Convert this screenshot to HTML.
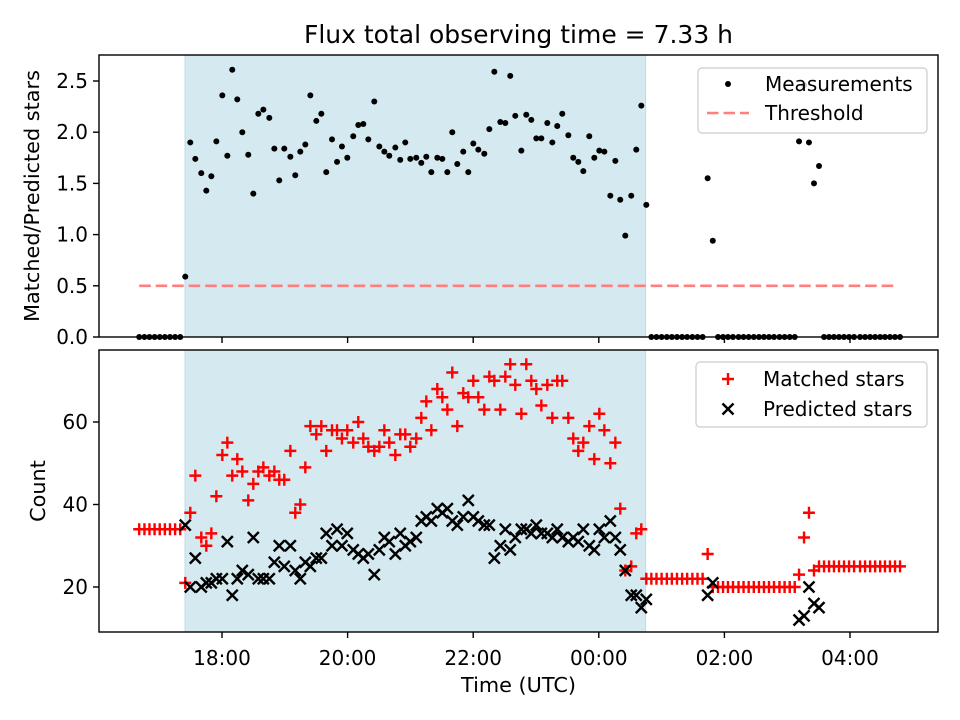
<!DOCTYPE html>
<html><head><meta charset="utf-8">
<style>
html,body{margin:0;padding:0;background:#fff;}
svg{display:block;font-family:"DejaVu Sans","Liberation Sans",sans-serif;}
</style></head>
<body>
<svg id="chart" width="960" height="720" viewBox="0 0 960 720" xmlns="http://www.w3.org/2000/svg">
<rect width="960" height="720" fill="#fff"/>
<text x="518.5" y="43" font-size="25" text-anchor="middle">Flux total observing time = 7.33 h</text>
<g id="topPanel"></g>
<g id="botPanel"></g>
<text transform="translate(39,196) rotate(-90)" font-size="20.8" text-anchor="middle">Matched/Predicted stars</text>
<text transform="translate(45,491) rotate(-90)" font-size="20.8" text-anchor="middle">Count</text>
<text x="518.5" y="692" font-size="20.8" text-anchor="middle">Time (UTC)</text>
</svg>
<script>
// minutes after 16:00 UTC
const minutes = [40.9,45.9,50.7,55.6,60.5,65.4,70.3,75.2,80.1,
84.9,89.7,94.5,100.2,105.0,109.8,114.6,120.3,125.1,129.8,134.6,139.4,145.1,149.9,154.7,159.5,165.2,170.0,174.7,179.5,185.3,190.0,194.8,199.6,204.4,210.1,214.9,219.6,225.1,229.9,234.6,239.7,245.4,250.2,255.0,259.8,265.5,270.3,275.1,279.8,285.6,290.3,295.1,299.9,305.6,310.4,315.2,320.0,325.7,330.5,335.3,340.0,344.8,350.5,355.3,360.1,364.9,370.6,375.4,380.2,385.9,390.7,395.4,400.2,406.0,410.7,415.5,420.3,425.1,430.8,435.6,440.3,445.1,450.9,455.6,460.4,465.2,470.9,475.7,480.5,485.3,491.0,495.8,500.5,505.3,511.0,515.8,520.6,525.4,
530.2,535.1,540.0,545.0,549.8,554.7,559.6,564.4,569.4,574.3,579.2,584.0,588.9,593.9,598.7,603.4,608.2,613.5,618.3,623.2,628.1,633.0,637.8,642.6,647.4,652.6,657.5,662.4,667.2,671.3,676.1,680.8,685.6,690.4,695.2,700.0,704.7,709.5,714.3,719.1,723.9,729.6,734.4,739.2,744.0,748.8,753.4,758.2,763.0,767.8];
const ratio = [0,0,0,0,0,0,0,0,0,
0.59,1.90,1.74,1.60,1.43,1.57,1.91,2.36,1.77,2.61,2.32,2.00,1.78,1.40,2.18,2.22,2.14,1.84,1.53,1.84,1.76,1.58,1.81,1.88,2.36,2.11,2.18,1.61,1.93,1.71,1.86,1.75,1.96,2.07,2.08,1.93,2.30,1.86,1.81,1.77,1.85,1.73,1.90,1.74,1.75,1.70,1.76,1.61,1.75,1.74,1.61,2.00,1.69,1.81,1.61,1.89,1.83,1.79,2.03,2.59,2.10,2.09,2.55,2.16,1.82,2.17,2.12,1.94,1.94,2.09,1.90,2.06,2.18,1.97,1.75,1.71,1.62,1.96,1.75,1.82,1.81,1.38,1.72,1.34,0.99,1.38,1.83,2.26,1.29,
0,0,0,0,0,0,0,0,0,0,0,1.55,0.94,0,0,0,0,0,0,0,0,0,0,0,0,0,0,0,0,1.91,2.46,1.90,1.50,1.67,0,0,0,0,0,0,0,0,0,0,0,0,0,0,0,0];
const matched = [34,34,34,34,34,34,34,34,34,
21,38,47,32,30,33,42,52,55,47,51,48,41,45,48,49,47,48,46,46,53,38,40,49,59,57,59,53,58,58,56,58,55,60,56,54,53,54,58,55,52,57,57,54,56,61,65,58,68,66,63,72,59,67,66,70,66,63,71,70,63,71,74,69,62,74,70,68,64,69,61,70,70,61,56,53,55,59,51,62,58,50,55,39,24,25,33,34,22,
22,22,22,22,22,22,22,22,22,22,22,28,20,20,20,20,20,20,20,20,20,20,20,20,20,20,20,20,20,23,32,38,24,25,25,25,25,25,25,25,25,25,25,25,25,25,25,25,25,25];
const predicted = [null,null,null,null,null,null,null,null,null,
35,20,27,20,21,21,22,22,31,18,22,24,23,32,22,22,22,26,30,25,30,24,22,26,25,27,27,33,30,34,30,33,29,28,27,28,23,29,32,31,28,33,30,31,32,36,37,36,39,38,39,36,35,37,41,37,36,35,35,27,30,34,29,32,34,34,33,35,33,33,32,34,32,31,32,31,34,30,29,34,32,36,32,29,24,18,18,15,17,
null,null,null,null,null,null,null,null,null,null,null,18,21,null,null,null,null,null,null,null,null,null,null,null,null,null,null,null,null,12,13,20,16,15,null,null,null,null,null,null,null,null,null,null,null,null,null,null,null,null];
const xTickMinutes = [120,240,360,480,600,720];
const xTickLabels = ["18:00","20:00","22:00","00:00","02:00","04:00"];
const topTicks = [0,0.5,1.0,1.5,2.0,2.5];
const topTickLabels = ["0.0","0.5","1.0","1.5","2.0","2.5"];
const botTicks = [20,40,60];
const botTickLabels = ["20","40","60"];
const shadeStart = 84.7, shadeEnd = 524.7;
const threshold = 0.5;

const NS = "http://www.w3.org/2000/svg";
const L = 99, R = 938;
const TT = 55, TB = 337, BT = 350, BB = 632;
const xs = m => 222 + (m - 120) * 62.8 / 60;
const yTop = v => 337 - v * 102.4;
const yBot = v => 587 - (v - 20) * 4.125;
function mk(parent, tag, attrs) {
  const e = document.createElementNS(NS, tag);
  for (const k in attrs) e.setAttribute(k, attrs[k]);
  parent.appendChild(e);
  return e;
}
const topG = document.getElementById('topPanel');
const botG = document.getElementById('botPanel');

function panel(g, yt, yb, name) {
  const s = mk(g, 'rect', {x: xs(shadeStart), y: yt, width: xs(shadeEnd) - xs(shadeStart), height: yb - yt, fill: '#d5eaf0', stroke: '#b9dbe6', 'stroke-width': 1});
  
  
}
panel(topG, TT, TB, 'top');
panel(botG, BT, BB, 'bottom');

const th = mk(topG, 'line', {x1: xs(minutes[0]), x2: xs(minutes[minutes.length - 1]) - 4, y1: yTop(threshold), y2: yTop(threshold), stroke: '#ff7f7f', 'stroke-width': 2.6, 'stroke-dasharray': '11.5,5'});



for (let i = 0; i < minutes.length; i++) {
  const c = mk(topG, 'circle', {cx: xs(minutes[i]), cy: yTop(ratio[i]), r: 3, fill: '#000'});
  
  
}
for (let i = 0; i < minutes.length; i++) {
  const x = xs(minutes[i]), y = yBot(matched[i]);
  const p = mk(botG, 'path', {d: `M${x-6},${y}H${x+6}M${x},${y-6}V${y+6}`, stroke: '#ff0000', 'stroke-width': 2.4, fill: 'none'});
  
  
}
for (let i = 0; i < minutes.length; i++) {
  if (predicted[i] === null) continue;
  const x = xs(minutes[i]), y = yBot(predicted[i]);
  const p = mk(botG, 'path', {d: `M${x-5.5},${y-5.5}L${x+5.5},${y+5.5}M${x-5.5},${y+5.5}L${x+5.5},${y-5.5}`, stroke: '#000', 'stroke-width': 2.4, fill: 'none'});
  
  
}

function axes(g, yt, yb, ticks, labels, yfn, showX, name) {
  const f = mk(g, 'rect', {x: L, y: yt, width: R - L, height: yb - yt, fill: 'none', stroke: '#000', 'stroke-width': 1.4});
  
  
  for (let i = 0; i < xTickMinutes.length; i++) {
    const x = xs(xTickMinutes[i]);
    const t = mk(g, 'line', {x1: x, x2: x, y1: yb, y2: yb + 6, stroke: '#000', 'stroke-width': 1.4});
    
    
    if (showX) {
      const tx = mk(g, 'text', {x: x, y: yb + 33, 'font-size': 20, 'text-anchor': 'middle'});
      tx.textContent = xTickLabels[i];
      
      
    }
  }
  for (let i = 0; i < ticks.length; i++) {
    const y = yfn(ticks[i]);
    const t = mk(g, 'line', {x1: L - 6, x2: L, y1: y, y2: y, stroke: '#000', 'stroke-width': 1.4});
    
    
    const tx = mk(g, 'text', {x: L - 11, y: y + 7, 'font-size': 20, 'text-anchor': 'end'});
    tx.textContent = labels[i];
    
    
  }
}
axes(topG, TT, TB, topTicks, topTickLabels, yTop, false, 'top');
axes(botG, BT, BB, botTicks, botTickLabels, yBot, true, 'bottom');

function legend(g, x, y, w, h, name) {
  const r = mk(g, 'rect', {x: x, y: y, width: w, height: h, rx: 4, fill: 'rgba(255,255,255,0.8)', stroke: '#cccccc', 'stroke-width': 1.2});
  
  
}
legend(topG, 698, 68, 229, 65, 'top-legend');
let e = mk(topG, 'circle', {cx: 728, cy: 84, r: 3, fill: '#000'});


e = mk(topG, 'text', {x: 765, y: 91, 'font-size': 20});
e.textContent = 'Measurements';


e = mk(topG, 'line', {x1: 707, x2: 749, y1: 113, y2: 113, stroke: '#ff7f7f', 'stroke-width': 2.6, 'stroke-dasharray': '11.5,5'});


e = mk(topG, 'text', {x: 765, y: 120, 'font-size': 20});
e.textContent = 'Threshold';



legend(botG, 696, 362, 231, 65, 'bottom-legend');
e = mk(botG, 'path', {d: 'M722,379H734M728,373V385', stroke: '#ff0000', 'stroke-width': 2.4});


e = mk(botG, 'text', {x: 763, y: 386, 'font-size': 20});
e.textContent = 'Matched stars';


e = mk(botG, 'path', {d: 'M722.5,403.5L733.5,414.5M722.5,414.5L733.5,403.5', stroke: '#000', 'stroke-width': 2.4});


e = mk(botG, 'text', {x: 763, y: 416, 'font-size': 20});
e.textContent = 'Predicted stars';


</script>
</body></html>
